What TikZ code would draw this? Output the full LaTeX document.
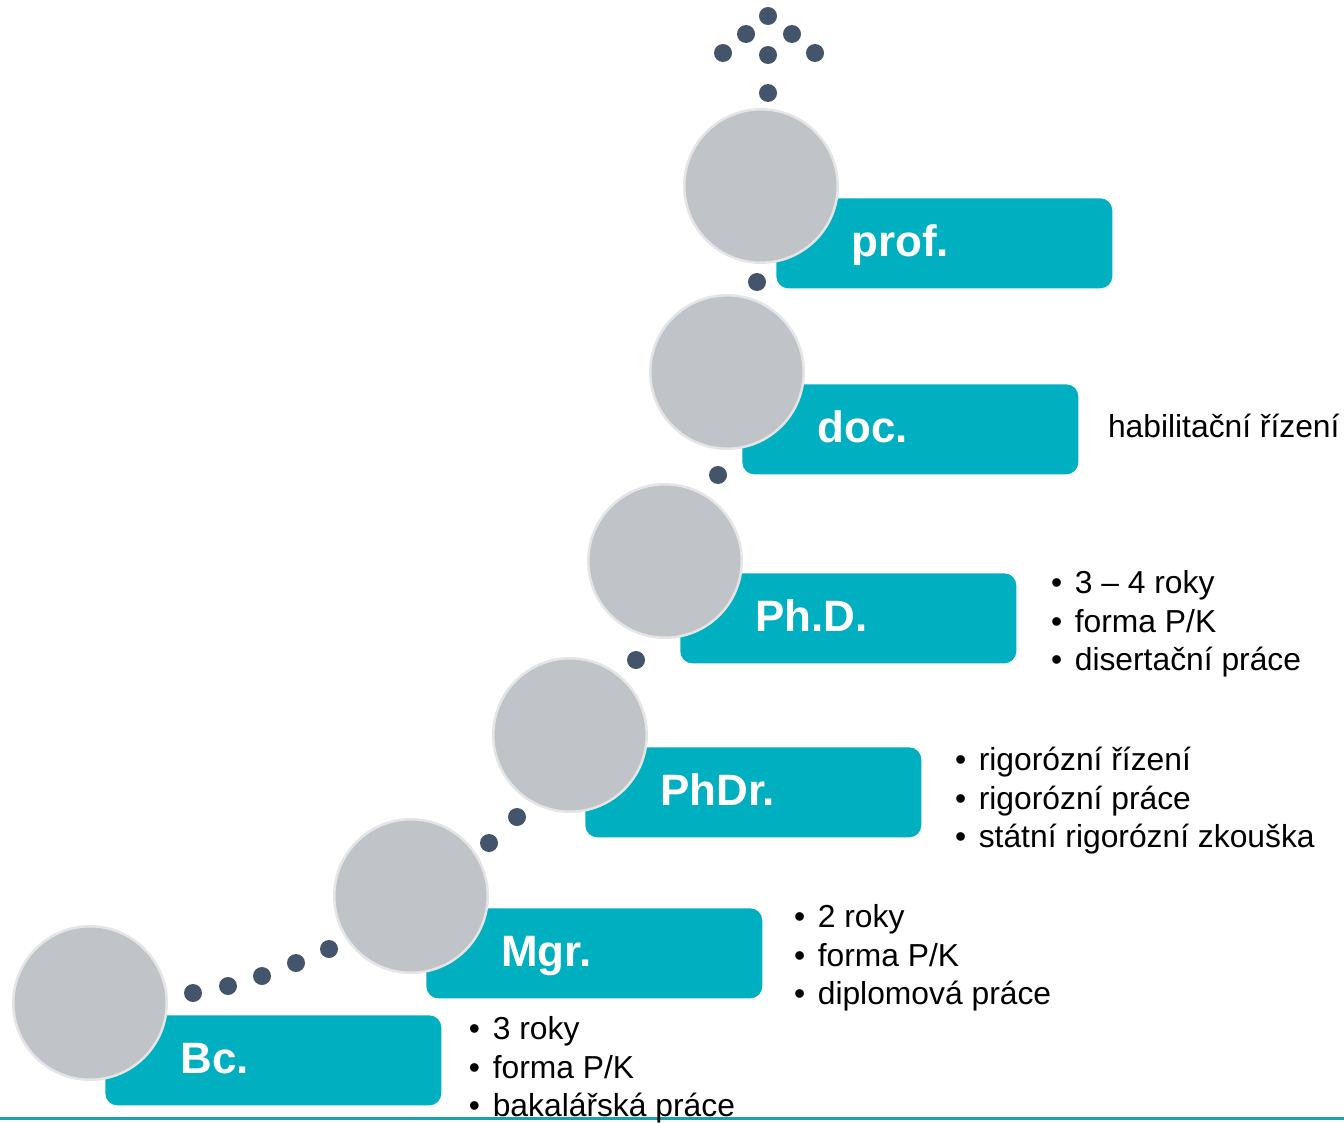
\documentclass[tikz,border=0pt]{standalone}
\usepackage{fontspec}
\setmainfont{Liberation Sans}
\usetikzlibrary{calc,positioning}

\definecolor{stepteal}{RGB}{0,175,192}
\definecolor{stepgray}{RGB}{192,195,199}
\definecolor{steprim}{RGB}{229,229,229}
\definecolor{stepdot}{RGB}{68,84,106}
\definecolor{stepline}{RGB}{24,164,174}

% one bullet line of the notes
\newcommand{\itm}[1]{\strut\makebox[0.75em][l]{\textbullet}#1}

\begin{document}
\begin{tikzpicture}[x=0.02cm,y=-0.02cm,
  ball/.style={circle,fill=stepgray,draw=steprim,line width=0.05cm,minimum size=3.07cm,inner sep=0pt},
  degbox/.style={rectangle,rounded corners=0.24cm,fill=stepteal,minimum width=6.72cm,minimum height=1.8cm,inner sep=0pt,anchor=north west},
  degname/.style={anchor=base west,inner sep=0pt,text=white,font=\fontsize{25}{30}\selectfont\bfseries},
  notes/.style={anchor=north west,inner sep=0pt,align=left,font=\fontsize{18.1}{22}\selectfont},
  bead/.style={fill=stepdot}]
        \useasboundingbox (0,0) rectangle (1344,1122);
        % bottom rule
        \coordinate (ruleL) at (0,1118);
        \coordinate (ruleR) at (1344,1118);
        \draw[stepline,line width=0.06cm] (ruleL) -- (ruleR);

        % Bc.
        \node[degbox] (bcbox) at (105,1015) {};
        \node[ball] (bc) at (90,1003) {};
        \node[degname] (bcname) at ($(bcbox.west)+(75,13)$) {Bc.};
        \node[notes] (bcnotes) at ($(bcbox.north east)+(27,-3)$)
          {\itm{3 roky}\\ \itm{forma P/K}\\ \itm{bakalářská práce}};

        % Mgr.
        \node[degbox] (mgrbox) at (426,908) {};
        \node[ball] (mgr) at (411,896) {};
        \node[degname] (mgrname) at ($(mgrbox.west)+(75,13)$) {Mgr.};
        \node[notes] (mgrnotes) at ($(mgrbox.north east)+(31,-8)$)
          {\itm{2 roky}\\ \itm{forma P/K}\\ \itm{diplomová práce}};

        % PhDr.
        \node[degbox] (phdrbox) at (585,747) {};
        \node[ball] (phdr) at (570,735) {};
        \node[degname] (phdrname) at ($(phdrbox.west)+(75,13)$) {PhDr.};
        \node[notes] (phdrnotes) at ($(phdrbox.north east)+(33,-4)$)
          {\itm{rigorózní řízení}\\ \itm{rigorózní práce}\\ \itm{státní rigorózní zkouška}};

        % Ph.D.
        \node[degbox] (phdbox) at (680,573) {};
        \node[ball] (phd) at (665,561) {};
        \node[degname] (phdname) at ($(phdbox.west)+(75,13)$) {Ph.D.};
        \node[notes] (phdnotes) at ($(phdbox.north east)+(34,-7)$)
          {\itm{3 – 4 roky}\\ \itm{forma P/K}\\ \itm{disertační práce}};

        % doc.
        \node[degbox] (docbox) at (742,384) {};
        \node[ball] (doc) at (727,372) {};
        \node[degname] (docname) at ($(docbox.west)+(75,13)$) {doc.};
        \node[notes,anchor=west] (docnotes) at ($(docbox.east)+(29,0)$)
          {\strut habilitační řízení};

        % prof.
        \node[degbox] (profbox) at (776,198) {};
        \node[ball] (prof) at (761,186) {};
        \node[degname] (profname) at ($(profbox.west)+(75,13)$) {prof.};

        % dots between the steps
        \fill[bead] (193,993) circle (0.18cm);
        \fill[bead] (228,986) circle (0.18cm);
        \fill[bead] (262,976) circle (0.18cm);
        \fill[bead] (296,963) circle (0.18cm);
        \fill[bead] (329,949) circle (0.18cm);
        \fill[bead] (489,843) circle (0.18cm);
        \fill[bead] (517,817) circle (0.18cm);
        \fill[bead] (636,660) circle (0.18cm);
        \fill[bead] (718,475) circle (0.18cm);
        \fill[bead] (757,282) circle (0.18cm);
        % dots above prof.
        \fill[bead] (768,93) circle (0.18cm);
        \fill[bead] (768,55) circle (0.18cm);
        \fill[bead] (723,53) circle (0.18cm);
        \fill[bead] (815,53) circle (0.18cm);
        \fill[bead] (746,34) circle (0.18cm);
        \fill[bead] (792,34) circle (0.18cm);
        \fill[bead] (768,16) circle (0.18cm);
\end{tikzpicture}
\end{document}
